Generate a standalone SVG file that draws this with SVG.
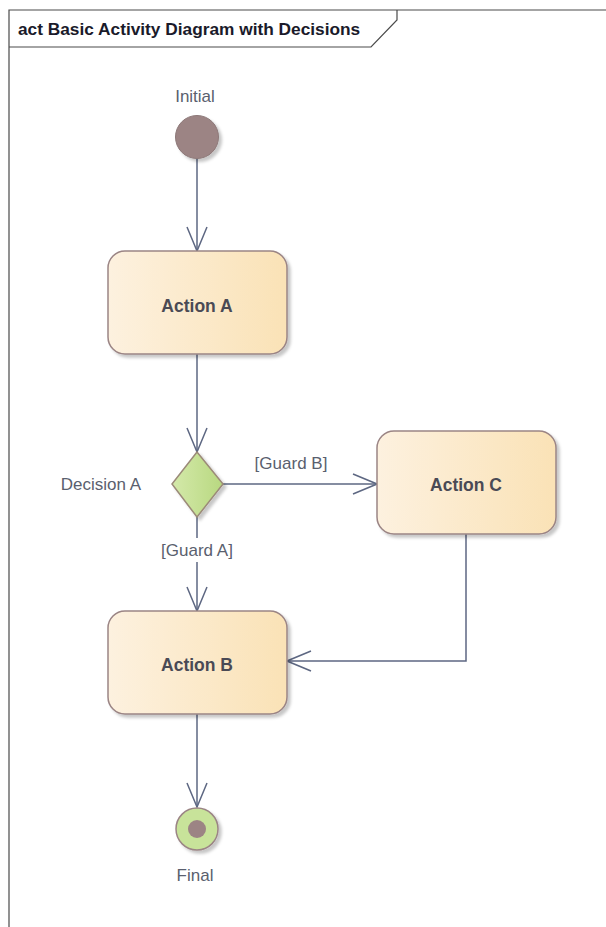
<svg xmlns="http://www.w3.org/2000/svg" width="606" height="927" viewBox="0 0 606 927">
  <style>
    .frame { fill: none; stroke: #4a4a4a; stroke-width: 1.2; }
    .title { font-family: "Liberation Sans", Arial, sans-serif; font-size: 17.3px; font-weight: bold; fill: #1a1a2a; }
    .label { font-family: "Liberation Sans", Arial, sans-serif; font-size: 17px; fill: #5a5f6e; }
    .act-text { font-family: "Liberation Sans", Arial, sans-serif; font-size: 17.5px; font-weight: bold; fill: #4a4a55; text-anchor: middle; }
    .action { fill: url(#actionFill); stroke: #9b8585; stroke-width: 1.5; filter: url(#shadow); }
    .edge { fill: none; stroke: #5d6782; stroke-width: 1.5; }
    .head { fill: none; stroke: #5d6782; stroke-width: 1.5; stroke-linejoin: miter; }
  </style>
  <defs>
    <linearGradient id="actionFill" x1="0" y1="0" x2="1" y2="0">
      <stop offset="0" stop-color="#fdf1df"/>
      <stop offset="1" stop-color="#fae2b6"/>
    </linearGradient>
    <linearGradient id="decisionFill" x1="0" y1="0" x2="1" y2="0">
      <stop offset="0" stop-color="#d4e9aa"/>
      <stop offset="1" stop-color="#b8d880"/>
    </linearGradient>
    <filter id="shadow" x="-20%" y="-20%" width="150%" height="150%">
      <feDropShadow dx="3" dy="3" stdDeviation="1.5" flood-color="#000" flood-opacity="0.22"/>
    </filter>
    <marker id="open" viewBox="0 0 26 22" refX="25" refY="11" markerWidth="26" markerHeight="22" markerUnits="userSpaceOnUse" orient="auto">
      <path d="M1,1 L25,11 L1,21" class="head"/>
    </marker>
  </defs>

  <!-- frame with title tab -->
  <g id="frame">
    <path class="frame" d="M9,927 V10 H606"/>
    <path class="frame" d="M9,47 H371 L397,20 V10"/>
    <text class="title" x="18" y="35">act Basic Activity Diagram with Decisions</text>
  </g>

  <!-- connectors -->
  <g id="connectors">
    <path class="edge" d="M197,159 V251" marker-end="url(#open)"/>
    <path class="edge" d="M197,354 V452" marker-end="url(#open)"/>
    <path class="edge" d="M223,484 H377" marker-end="url(#open)"/>
    <path class="edge" d="M197,517 V611" marker-end="url(#open)"/>
    <path class="edge" d="M466,534 V661 H287" marker-end="url(#open)"/>
    <path class="edge" d="M197,714 V807" marker-end="url(#open)"/>
    <text class="label" x="291" y="469" text-anchor="middle">[Guard B]</text>
    <rect x="154" y="538" width="86" height="24" fill="#fff"/>
    <text class="label" x="197" y="556" text-anchor="middle">[Guard A]</text>
  </g>

  <g id="initial">
    <circle cx="197" cy="137" r="21.5" fill="#9c8484" stroke="#8c7878" stroke-width="1" filter="url(#shadow)"/>
    <text class="label" x="195" y="102" text-anchor="middle">Initial</text>
  </g>

  <g id="action-a">
    <rect class="action" x="108" y="251" width="179" height="103" rx="17"/>
    <text class="act-text" x="197" y="312">Action A</text>
  </g>

  <g id="decision-a">
    <path d="M197,452 L223,484 L197,517 L172,484 Z" fill="url(#decisionFill)" stroke="#9b8a78" stroke-width="1.5" filter="url(#shadow)"/>
    <text class="label" x="141" y="490" text-anchor="end">Decision A</text>
  </g>

  <g id="action-c">
    <rect class="action" x="377" y="431" width="179" height="103" rx="17"/>
    <text class="act-text" x="466" y="491">Action C</text>
  </g>

  <g id="action-b">
    <rect class="action" x="108" y="611" width="179" height="103" rx="17"/>
    <text class="act-text" x="197" y="671">Action B</text>
  </g>

  <g id="final">
    <circle cx="197" cy="829" r="21" fill="#c8e39a" stroke="#9b8585" stroke-width="1.5" filter="url(#shadow)"/>
    <circle cx="197" cy="829" r="9" fill="#9c8484"/>
    <text class="label" x="195" y="881" text-anchor="middle">Final</text>
  </g>
</svg>
